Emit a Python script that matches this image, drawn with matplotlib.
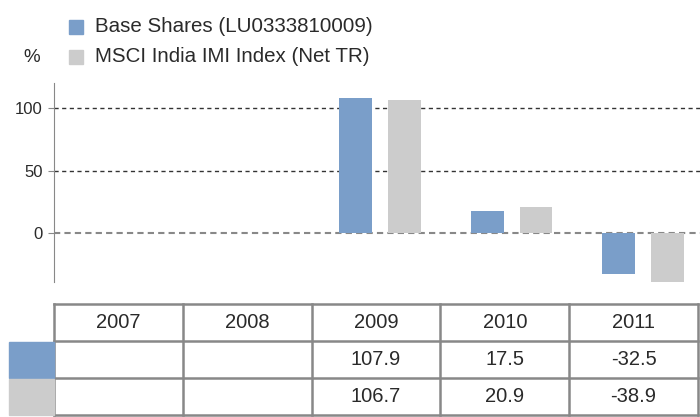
import numpy as np
import matplotlib.pyplot as plt

plt.rcParams['font.family'] = ['Liberation Sans', 'DejaVu Sans']

# 数据
years = ['2007', '2008', '2009', '2010', '2011']
base_shares = [None, None, 107.9, 17.5, -32.5]
msci_index = [None, None, 106.7, 20.9, -38.9]
series_names = ['Base Shares (LU0333810009)', 'MSCI India IMI Index (Net TR)']
colors = ['#7a9ec9', '#cccccc']
yticks = [0, 50, 100]

W, H = 700, 417
TXT = '#2a2a2a'
fig = plt.figure(figsize=(W / 100, H / 100), dpi=100)

def px_axes(x0, y0, x1, y1):
    # 像素坐标 -> 图形比例
    return fig.add_axes([x0 / W, 1 - y1 / H, (x1 - x0) / W, (y1 - y0) / H])

# 柱状图
ax = px_axes(54, 83, 700, 282)
x = np.arange(len(years))
for i, vals in enumerate([base_shares, msci_index]):
    xs = [xi for xi, v in zip(x, vals) if v is not None]
    vs = [v for v in vals if v is not None]
    off = -0.186 if i == 0 else 0.186
    ax.bar(np.array(xs) + off, vs, width=0.25, color=colors[i], zorder=3)

ax.set_xlim(-0.479, 4.433)
ax.set_ylim(-39.3, 120.3)
for t in yticks:
    if t == 0:
        ax.axhline(t, color='#888888', lw=1.5, ls=(0, (3, 2)), zorder=2)
    else:
        ax.axhline(t, color='#333333', lw=1.0, ls=(0, (3, 2.5)), zorder=2)
ax.set_yticks(yticks)
ax.set_yticklabels([str(t) for t in yticks], fontsize=12, color=TXT)
ax.tick_params(axis='y', length=4, color='#888888', pad=4)
ax.set_xticks([])
for s in ['top', 'right', 'bottom']:
    ax.spines[s].set_visible(False)
ax.spines['left'].set_color('#888888')

# 图例
fig.text(32 / W, 1 - 57 / H, '%', fontsize=13.5, color=TXT, ha='center', va='center')
for i, name in enumerate(series_names):
    yc = 27 + i * 30
    fig.patches.append(plt.Rectangle((69 / W, 1 - (yc + 7) / H), 14 / W, 14 / H,
                                     transform=fig.transFigure, color=colors[i]))
    fig.text(95 / W, 1 - yc / H, name, fontsize=14.8, color=TXT, va='center')

# 表格
tab = px_axes(54, 304, 698, 415)
tab.set_xlim(0, 5)
tab.set_ylim(3, 0)
tab.axis('off')
rows = [years, base_shares, msci_index]
for r, row in enumerate(rows):
    for c, v in enumerate(row):
        if v is None:
            continue
        txt = v if isinstance(v, str) else f'{v:.1f}'
        tab.text(c + 0.5, r + 0.5, txt, ha='center', va='center', fontsize=14.5, color=TXT)
for r in range(4):
    tab.plot([0, 5], [r, r], color='#888888', lw=1.8, clip_on=False)
for c in range(6):
    tab.plot([c, c], [0, 3], color='#888888', lw=1.8, clip_on=False)

# 表格左侧色块
for i in range(2):
    y0 = 342 + i * 37
    fig.patches.append(plt.Rectangle((9 / W, 1 - (y0 + 36) / H), 45 / W, 36 / H,
                                     transform=fig.transFigure, color=colors[i], zorder=0))

fig.savefig('out.png', dpi=100)
